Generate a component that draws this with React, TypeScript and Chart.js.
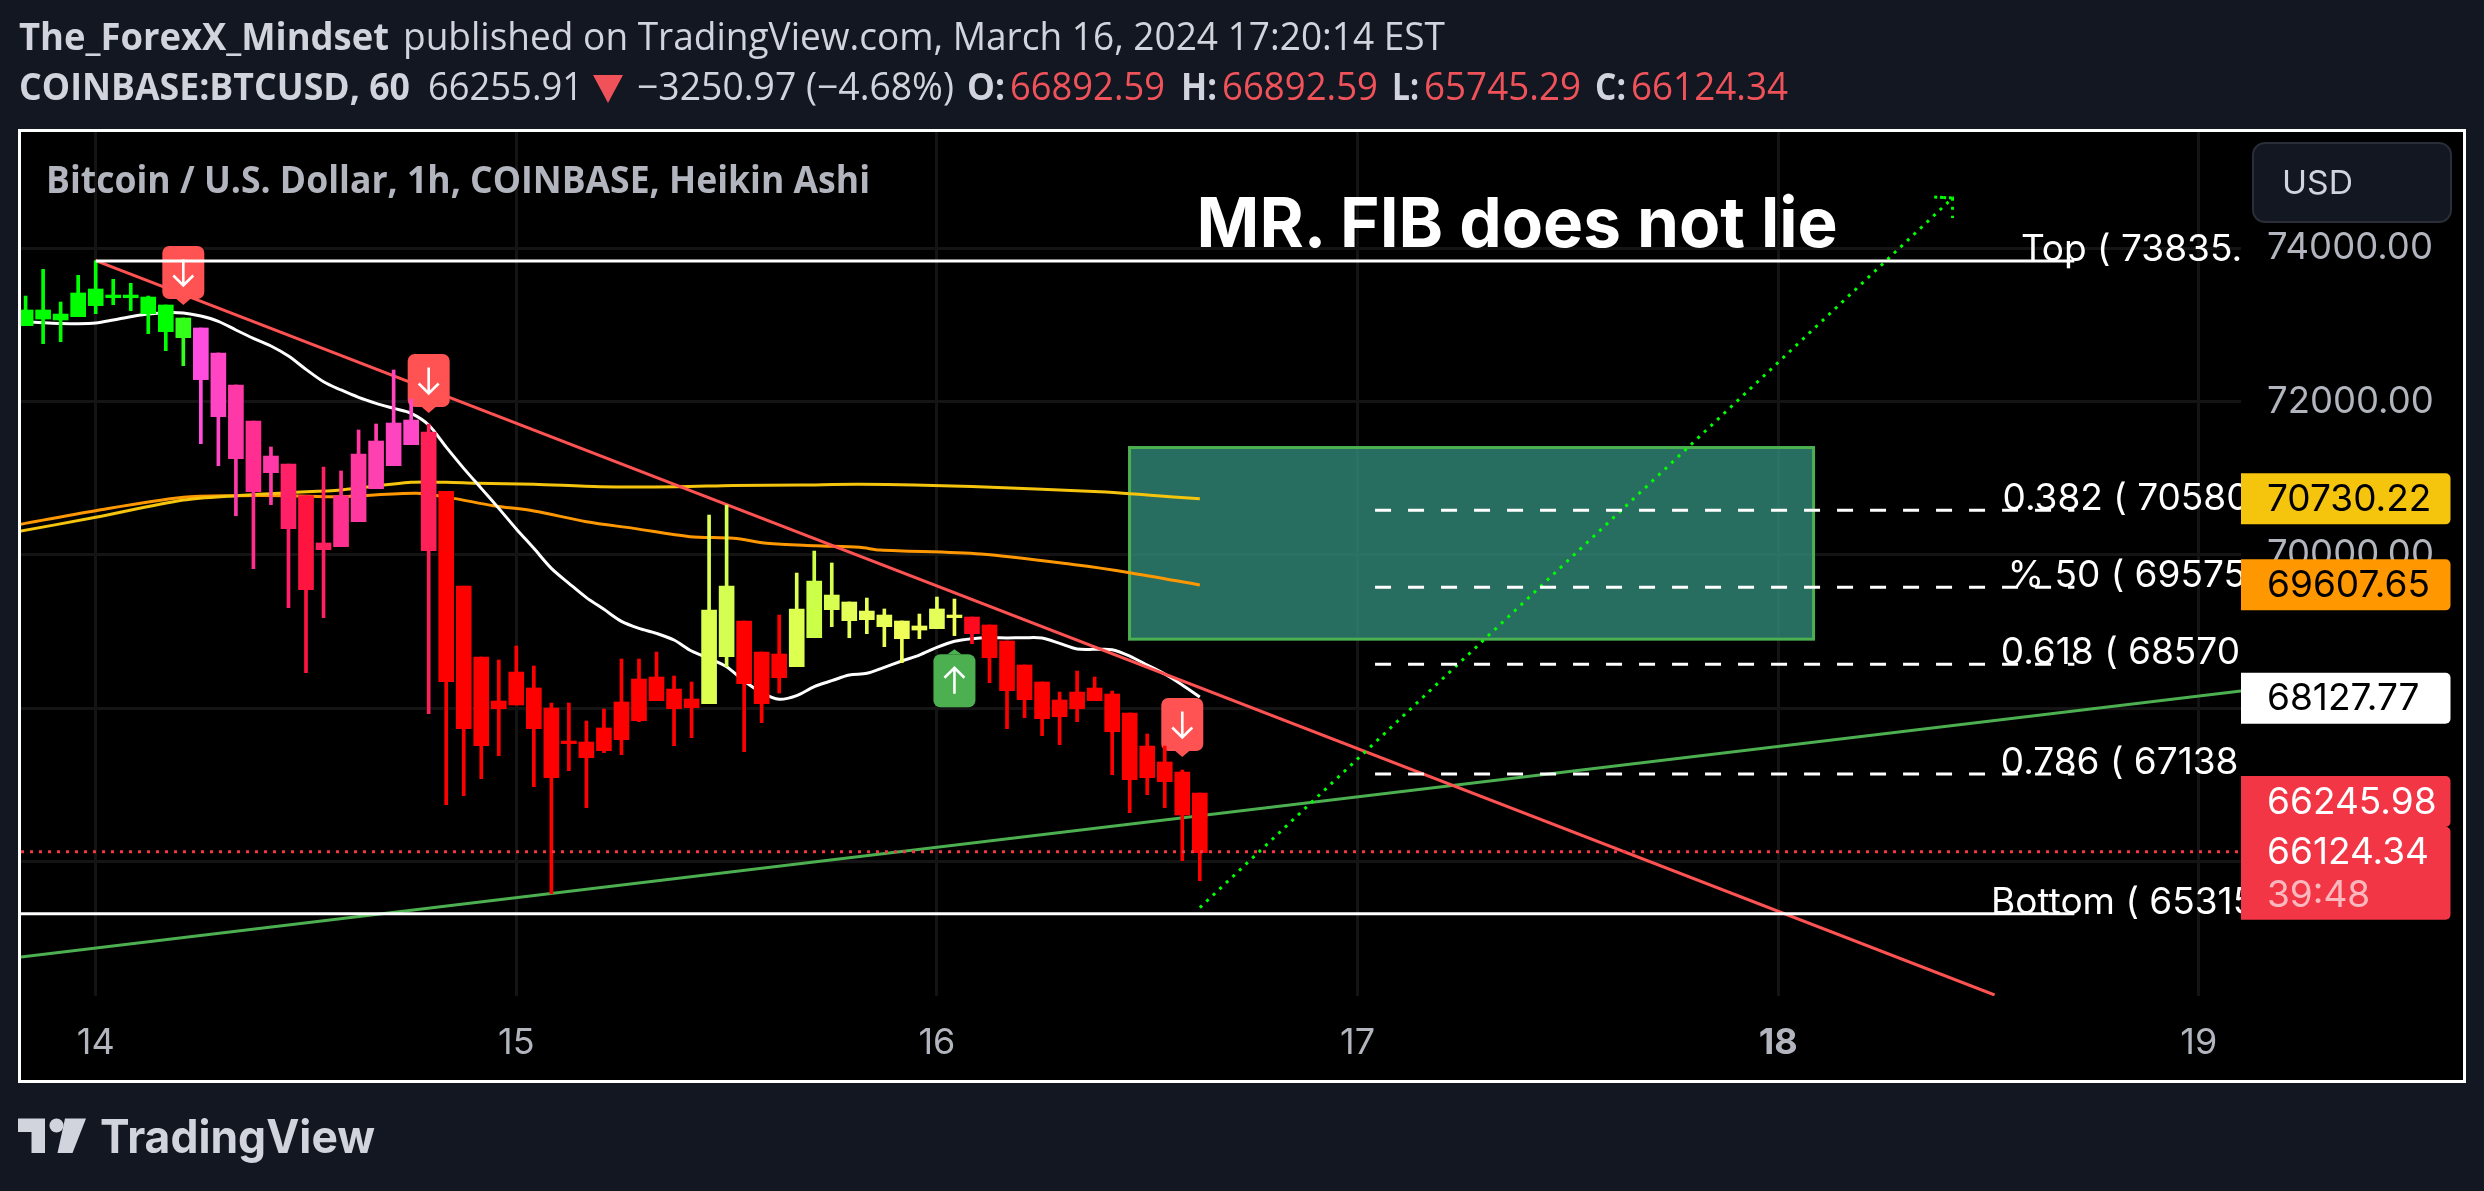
import React, { useEffect, useRef } from "react";
import { Chart, registerables } from "chart.js";

Chart.register(...registerables);

// ---------- data (prices) ----------
const candleHours = [-4,-3,-2,-1,0,1,2,3,4,5,6,7,8,9,10,11,12,13,14,15,16,17,18,19,20,21,22,23,24,25,26,27,28,29,30,31,32,33,34,35,36,37,38,39,40,41,42,43,44,45,46,47,48,49,50,51,52,53,54,55,56,57,58,59,60,61,62,63];
const candleHighs = [73377,73725,73299,73647,73838,73595,73543,73377,73260,73090,72960,72634,72216,71746,71407,71185,70772,71146,71094,71629,71707,72412,72033,71707,70828,69593,68666,68627,68810,68549,68066,68066,67831,67988,68640,68640,68731,68418,68340,70519,70650,69136,68731,69214,69762,70049,69893,69384,69436,69293,69136,69227,69449,69423,69188,69084,68875,68562,68340,68209,68483,68405,68222,67935,67661,67504,67191,66891];
const candleBodyTops = [73195,73195,73142,73417,73469,73390,73390,73364,73260,73090,72960,72634,72216,71746,71289,71185,70772,70154,70772,71316,71485,71720,71759,71602,70828,69593,68666,68092,68470,68262,68001,67570,67557,67740,68079,68379,68405,68248,68118,69279,69593,69136,68731,68705,69293,69658,69475,69384,69266,69214,69136,69071,69293,69214,69188,69084,68875,68562,68340,68105,68209,68261,68183,67935,67504,67296,67165,66891];
const candleBodyBottoms = [72990,73077,73064,73108,73251,73355,73355,73147,72912,72834,72286,71803,71255,70824,71072,70341,69545,70067,70106,70432,70863,71163,71437,70054,68344,67731,67509,67992,68040,67731,67091,67535,67352,67444,67587,67835,68096,67992,68005,68057,68670,68318,68057,68396,68540,68918,69284,69140,69153,69062,68905,69018,69036,69180,68971,68657,68227,68109,67861,67887,67992,68096,67691,67065,67091,67039,66604,66112];
const candleLows = [72990,72755,72781,73108,73147,73264,73186,72886,72664,72468,71450,71163,70510,69819,70654,69310,68462,69180,70106,70432,70863,71163,71437,67927,66739,66856,67078,67379,68040,66974,65578,67183,66700,67418,67392,67822,68096,67509,67613,68057,68540,67431,67809,68196,68540,68918,69062,68918,68971,68801,68592,68905,69036,68945,68840,68331,67731,67874,67640,67522,67822,68096,67130,66635,66869,66700,66008,65747];
const candleColors = ["#00ff00","#00ff00","#00ff00","#00ff00","#00ff00","#00ff00","#00ff00","#00ff00","#00ff00","#33ff1a","#ff4de0","#ff44c4","#ff38a8","#ff2e90","#ff3aa8","#ff2068","#ff1440","#ff2060","#ff3090","#ff38a0","#ff40b0","#ff44c0","#ff48c8","#ff2058","#ff0000","#ff0000","#ff0000","#ff0000","#ff0000","#ff0000","#ff0000","#ff0000","#ff0000","#ff0000","#ff0000","#ff0000","#ff0000","#ff0000","#ff0000","#dcff50","#d4ff50","#ff0000","#ff0000","#ff0000","#dcff50","#ccff48","#d8ff50","#e4ff58","#e8ff58","#e8ff58","#f0ff58","#f0ff58","#e4ff58","#f0ff58","#ff0a1e","#ff0000","#ff0000","#ff0000","#ff0000","#ff0000","#ff0000","#ff0000","#ff0000","#ff0000","#ff0000","#ff0000","#ff0000","#ff0000"];

const whiteMaValues = [73038,73029,73020,73016,73025,73064,73108,73142,73160,73156,73116,73047,72934,72825,72725,72594,72420,72259,72151,72055,71977,71911,71846,71694,71405,71128,70867,70606,70337,70084,69823,69628,69441,69288,69132,69040,68975,68888,68744,68649,68540,68353,68201,68114,68162,68279,68357,68431,68453,68531,68614,68692,68792,68871,68905,68918,68914,68918,68914,68844,68771,68766,68762,68679,68562,68444,68301,68144];

const goldHours = [-4.5,0,5,8,11,14,18,20,21.76,25,28.8,33.2,36.4,40.2,43.6,50,57.3,60,63];
const goldValues = [70300,70489,70715,70772,70811,70846,70946,70946,70933,70920,70889,70889,70906,70910,70920,70890,70823,70780,70730];
const orangeHours = [-4.5,0,5,8,11,14,18.3,20.2,22.7,25,28,30.7,33.9,36.4,38.3,41.1,43.6,44.75,50.5,56,59,63];
const orangeValues = [70390,70576,70750,70772,70772,70759,70802,70746,70641,70572,70432,70345,70237,70215,70150,70119,70097,70063,70010,69867,69767,69607];

const redTrendHours = [0,108.35];
const redTrendValues = [73838,64255];
const greenTrendHours = [-4.262,122.41];
const greenTrendValues = [64751,68223];
const arrowHours = [63,105.95,104.9,105.95,105.95];
const arrowValues = [65395,74656,74670,74656,74395];

const fibLevels = [70580,69575,68570,67138];
const fibLabels = ["0.382 ( 70580","% 50 ( 69575","0.618 ( 68570","0.786 ( 67138"];
const fibLabelHours = [108.8,109.1,108.7,108.7];
const fibHours = [73,112.9];
const rangeLevels = [73835,65315];
const rangeLabels = ["Top ( 73835.","Bottom ( 65315"];
const rangeLabelHours = [109.85,108.15];
const rangeStartHours = [0,-4.262];
const rangeEndHour = 112.9;
const lastClose = 66124.34;

const zoneHours = [58.99,98.02];
const zoneValues = [71400,68899];

const signHours = [5,19,62,49];
const signValues = [73260,71851,67361,68767];
const signKinds = ["down","down","down","up"];

const tagValues = [70730.22,69607.65,68127.77,66245.98];
const tagFills = ["#f5c40c","#ff9800","#ffffff","#f23645"];
const tagInks = ["#000000","#000000","#000000","#ffffff"];
const tagShifts = [0,0,0,-41];
const countdown = "39:48";

const dayHours = [0,24,48,72,96,120];
const dayLabels = ["14","15","16","17","18","19"];
const priceTicks = [74000,72000,70000,68000,66000];

const ui = "Inter, Roboto, sans-serif";
const head = "'Open Sans', sans-serif";

function xy(xs: number[], ys: number[]) {
  return xs.map((x, i) => ({ x, y: ys[i] }));
}

const annotations = {
  id: "annotations",
  beforeDatasetsDraw(chart: any) {
    const { ctx, scales } = chart;
    const l = scales.x.getPixelForValue(zoneHours[0]);
    const r = scales.x.getPixelForValue(zoneHours[1]);
    const t = scales.y.getPixelForValue(zoneValues[0]);
    const b = scales.y.getPixelForValue(zoneValues[1]);
    ctx.save();
    ctx.fillStyle = "rgba(50,137,120,0.8)";
    ctx.fillRect(l, t, r - l, b - t);
    ctx.strokeStyle = "#4caf50";
    ctx.lineWidth = 3;
    ctx.strokeRect(l, t, r - l, b - t);
    ctx.restore();
  },
  beforeDatasetDraw(chart: any, args: any) {
    if (args.index !== 2) return;
    const { ctx, scales } = chart;
    signHours.forEach((h, i) => {
      const x = scales.x.getPixelForValue(h);
      const tip = scales.y.getPixelForValue(signValues[i]);
      const down = signKinds[i] === "down";
      const top = down ? tip - 59 : tip + 5;
      const w = 42, ht = 53;
      ctx.save();
      ctx.fillStyle = down ? "#ff5252" : "#4caf50";
      ctx.beginPath();
      ctx.roundRect(x - w / 2, top, w, ht, 7);
      ctx.fill();
      ctx.beginPath();
      if (down) {
        ctx.moveTo(x - 7, top + ht);
        ctx.lineTo(x, tip);
        ctx.lineTo(x + 7, top + ht);
      } else {
        ctx.moveTo(x - 7, top);
        ctx.lineTo(x, tip);
        ctx.lineTo(x + 7, top);
      }
      ctx.fill();
      ctx.strokeStyle = "#ffffff";
      ctx.lineWidth = 2.6;
      ctx.lineJoin = "miter";
      ctx.beginPath();
      const c = top + ht / 2;
      const d = down ? 1 : -1;
      ctx.moveTo(x, c - 13 * d);
      ctx.lineTo(x, c + 13 * d);
      ctx.moveTo(x - 10, c + 3 * d);
      ctx.lineTo(x, c + 13 * d);
      ctx.lineTo(x + 10, c + 3 * d);
      ctx.stroke();
      ctx.restore();
    });
  },
  afterDatasetsDraw(chart: any) {
    const { ctx, scales, chartArea } = chart;
    ctx.save();
    ctx.beginPath();
    ctx.rect(chartArea.left, chartArea.top, chartArea.right - chartArea.left, chartArea.bottom - chartArea.top);
    ctx.clip();
    ctx.fillStyle = "#ffffff";
    ctx.font = "37px " + ui;
    ctx.textBaseline = "alphabetic";
    ctx.textAlign = "left";
    fibLevels.forEach((v, i) => {
      ctx.fillText(fibLabels[i], scales.x.getPixelForValue(fibLabelHours[i]), scales.y.getPixelForValue(v));
    });
    rangeLevels.forEach((v, i) => {
      ctx.fillText(rangeLabels[i], scales.x.getPixelForValue(rangeLabelHours[i]), scales.y.getPixelForValue(v));
    });
    ctx.restore();
  },
  afterDraw(chart: any) {
    const { ctx, scales, chartArea } = chart;
    const l = chartArea.right;
    const w = 209.5;
    const tx = l + 26;
    ctx.save();
    ctx.font = "37px " + ui;
    ctx.textAlign = "left";
    ctx.textBaseline = "middle";
    tagValues.forEach((v, i) => {
      const c = scales.y.getPixelForValue(v) + tagShifts[i];
      ctx.fillStyle = tagFills[i];
      ctx.beginPath();
      ctx.roundRect(l, c - 25.5, w, 51, [0, 5, 5, 0]);
      ctx.fill();
      ctx.fillStyle = tagInks[i];
      ctx.fillText(v.toFixed(2), tx, c + 1);
    });
    const cy = scales.y.getPixelForValue(lastClose);
    ctx.fillStyle = "#f23645";
    ctx.beginPath();
    ctx.roundRect(l, cy - 25, w, 93, [0, 5, 5, 0]);
    ctx.fill();
    ctx.fillStyle = "#ffffff";
    ctx.fillText(lastClose.toFixed(2), tx, cy + 1);
    ctx.fillStyle = "rgba(255,255,255,0.65)";
    ctx.fillText(countdown, tx, cy + 44);
    ctx.restore();
  },
};

type Seg = { t: string; x: number; w: number; y: number; s: number; wt?: number; c?: string; f?: string };
const segs: Seg[] = [
  { t: "The_ForexX_Mindset", x: 19, w: 370, y: 50, s: 38, wt: 700 },
  { t: "published on TradingView.com, March 16, 2024 17:20:14 EST", x: 403, w: 1042, y: 50, s: 38 },
  { t: "COINBASE:BTCUSD, 60", x: 19, w: 391, y: 100, s: 38, wt: 700 },
  { t: "66255.91", x: 428, w: 155, y: 100, s: 38 },
  { t: "\u22123250.97 (\u22124.68%)", x: 637, w: 317, y: 100, s: 38 },
  { t: "O:", x: 967, w: 38, y: 100, s: 38, wt: 700 },
  { t: "66892.59", x: 1010, w: 155, y: 100, s: 38, c: "#f0525a" },
  { t: "H:", x: 1181, w: 36, y: 100, s: 38, wt: 700 },
  { t: "66892.59", x: 1222, w: 156, y: 100, s: 38, c: "#f0525a" },
  { t: "L:", x: 1392, w: 27, y: 100, s: 38, wt: 700 },
  { t: "65745.29", x: 1424, w: 157, y: 100, s: 38, c: "#f0525a" },
  { t: "C:", x: 1595, w: 31, y: 100, s: 38, wt: 700 },
  { t: "66124.34", x: 1631, w: 157, y: 100, s: 38, c: "#f0525a" },
  { t: "Bitcoin / U.S. Dollar, 1h, COINBASE, Heikin Ashi", x: 46, w: 824, y: 193, s: 37, wt: 700, c: "#b2b5be" },
  { t: "MR. FIB does not lie", x: 1196.6, w: 641, y: 247, s: 69, wt: 700, c: "#ffffff", f: "Inter, sans-serif" },
  { t: "USD", x: 2282, w: 71, y: 194, s: 33, c: "#d1d4dc", f: ui },
  { t: "TradingView", x: 100, w: 275, y: 1153, s: 46, wt: 700, c: "#d1d4dc", f: ui },
];

export default function App() {
  const ref = useRef<HTMLCanvasElement | null>(null);
  useEffect(() => {
    document.body.style.margin = "0";
    document.body.style.background = "#131722";
    const line = (data: any, color: string, width: number, order: number, extra: any = {}) => ({
      type: "line",
      data,
      borderColor: color,
      borderWidth: width,
      pointRadius: 0,
      order,
      tension: 0,
      ...extra,
    });
    const dotted = { borderDash: [3, 6], borderCapStyle: "butt" };
    const dashed = { borderDash: [16, 17] };
    const chart = new Chart(ref.current as HTMLCanvasElement, {
      type: "bar",
      data: {
        datasets: [
          line(xy(redTrendHours, redTrendValues), "#ff5252", 3, 6),
          line(xy(greenTrendHours, greenTrendValues), "#4caf50", 3, 6),
          {
            type: "bar",
            data: candleHours.map((x, i) => ({ x, y: [candleLows[i], candleHighs[i]] })),
            backgroundColor: candleColors,
            barThickness: 3,
            grouped: false,
            order: 3,
          },
          {
            type: "bar",
            data: candleHours.map((x, i) => ({ x, y: [candleBodyBottoms[i], candleBodyTops[i]] })),
            backgroundColor: candleColors,
            barThickness: 15,
            grouped: false,
            order: 2,
          },
          line(xy(candleHours, whiteMaValues), "#ffffff", 3, 7, { tension: 0.3 }),
          line(xy(goldHours, goldValues), "#f5c40c", 3, 8, { tension: 0.3 }),
          line(xy(orangeHours, orangeValues), "#ff9800", 3, 8, { tension: 0.3 }),
          ...fibLevels.map((v) =>
            line(xy(fibHours, fibHours.map(() => v)), "#ffffff", 3, 1, dashed)
          ),
          ...rangeLevels.map((v, i) =>
            line(xy([rangeStartHours[i], rangeEndHour], [v, v]), "#ffffff", 3, 1)
          ),
          line(xy([-4.262, 122.41], [lastClose, lastClose]), "#f23645", 3, 1, dotted),
          line(xy(arrowHours, arrowValues), "#00ff00", 3, 1, dotted),
        ] as any,
      },
      options: {
        responsive: false,
        animation: false,
        devicePixelRatio: 1,
        layout: { padding: 0, autoPadding: false },
        plugins: { legend: { display: false }, tooltip: { enabled: false }, title: { display: false } },
        scales: {
          x: {
            type: "linear",
            offset: false,
            min: -4.262,
            max: 122.41,
            afterBuildTicks: (s: any) => {
              s.ticks = dayHours.map((value) => ({ value }));
            },
            afterFit: (s: any) => {
              s.height = 84;
              s.paddingLeft = 0;
              s.paddingRight = 0;
            },
            grid: { color: "#141414", lineWidth: 3, drawTicks: false, offset: false },
            border: { display: false },
            ticks: {
              autoSkip: false,
              maxRotation: 0,
              padding: 26,
              color: "#b2b5be",
              font: (c: any) => ({ family: ui, size: 36, weight: c.tick && c.tick.value === 96 ? "bold" : "normal" }),
              callback: (v: any) => dayLabels[dayHours.indexOf(v)],
            },
          },
          y: {
            type: "linear",
            position: "right",
            min: 64242.1,
            max: 75517.8,
            afterBuildTicks: (s: any) => {
              s.ticks = priceTicks.map((value) => ({ value }));
            },
            afterFit: (s: any) => {
              s.width = 222;
              s.paddingTop = 0;
              s.paddingBottom = 0;
            },
            grid: { color: "#141414", lineWidth: 3, drawTicks: false },
            border: { display: false },
            ticks: {
              padding: 26,
              color: "#b2b5be",
              font: { family: ui, size: 36.5 },
              callback: (v: any) => Number(v).toFixed(2),
            },
          },
        },
      } as any,
      plugins: [annotations as any],
    } as any);
    return () => chart.destroy();
  }, []);

  return (
    <div style={{ position: "fixed", left: 0, top: 0, width: 2484, height: 1191, background: "#131722", overflow: "hidden" }}>
      <div style={{ position: "absolute", left: 18, top: 129, width: 2448, height: 954, boxSizing: "border-box", border: "3px solid #ffffff", background: "#000" }} />
      <canvas ref={ref} width={2442} height={948} style={{ position: "absolute", left: 21, top: 132, width: 2442, height: 948 }} />
      <svg width={2484} height={1191} style={{ position: "absolute", left: 0, top: 0, pointerEvents: "none" }}>
        <rect x={2253} y={143} width={198} height={79} rx={12} fill="#131722" stroke="#2a2e39" strokeWidth={2} />
        {segs.map((g, i) => (
          <text
            key={i}
            x={g.x}
            y={g.y}
            textLength={g.w}
            lengthAdjust="spacingAndGlyphs"
            fontFamily={g.f || head}
            fontSize={g.s}
            fontWeight={g.wt || 400}
            fill={g.c || "#d1d4dc"}
          >
            {g.t}
          </text>
        ))}
        <polygon points="593,75 623,75 608,103" fill="#f0525a" />
        <g fill="#d1d4dc">
          <polygon points="18,1118.5 45,1118.5 45,1153 31.5,1153 31.5,1132 18,1132" />
          <circle cx={56.5} cy={1125.5} r={7} />
          <polygon points="65,1118.5 86,1118.5 72.5,1153 57.5,1153" />
        </g>
      </svg>
    </div>
  );
}
